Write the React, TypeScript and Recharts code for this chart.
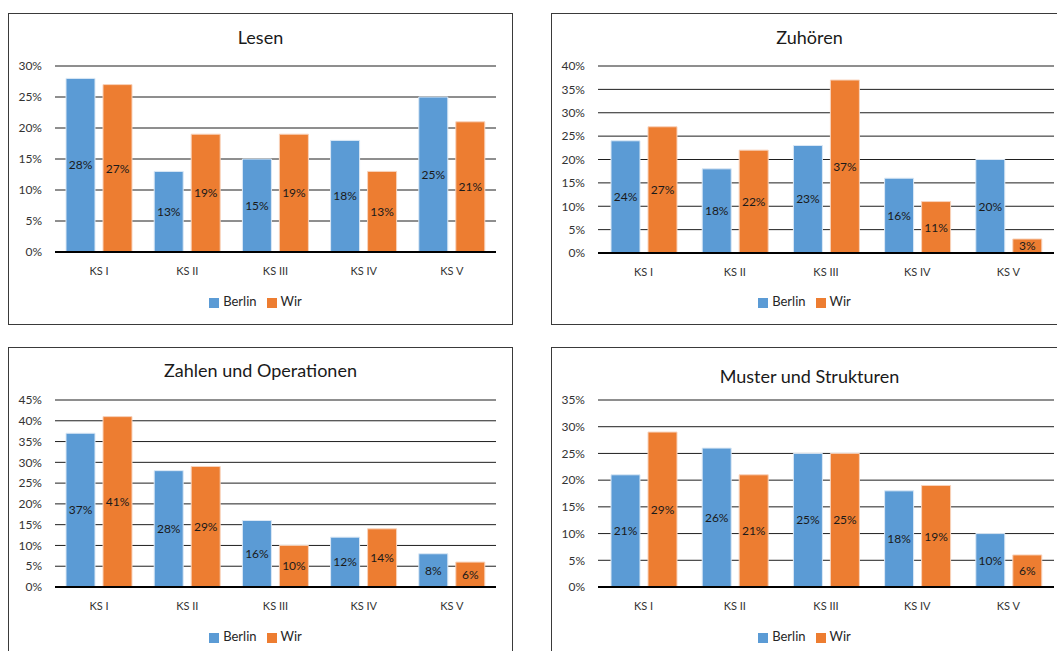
import React from 'react'
import { BarChart, Bar, XAxis, YAxis, CartesianGrid, Legend, LabelList } from 'recharts'

const categories = ['KS I', 'KS II', 'KS III', 'KS IV', 'KS V']

const lesenBerlin = [28, 13, 15, 18, 25]
const lesenWir = [27, 19, 19, 13, 21]

const zuhoerenBerlin = [24, 18, 23, 16, 20]
const zuhoerenWir = [27, 22, 37, 11, 3]

const zahlenBerlin = [37, 28, 16, 12, 8]
const zahlenWir = [41, 29, 10, 14, 6]

const musterBerlin = [21, 26, 25, 18, 10]
const musterWir = [29, 21, 25, 19, 6]

const BLUE = '#5B9BD5'
const ORANGE = '#ED7D31'
const FONT = 'Lato, "Open Sans", sans-serif'

type Box = { left: number; top: number; right: number; bottom: number }

type PanelProps = {
    title: string
    berlin: number[]
    wir: number[]
    yMax: number
    box: Box
    plot: Box
    titleY: number
    legendY: number
}

const Y_AXIS_W = 40
const X_AXIS_H = 30

function Panel({ title, berlin, wir, yMax, box, plot, titleY, legendY }: PanelProps) {
    const w = box.right - box.left
    const h = box.bottom - box.top
    const data = categories.map((c, i) => ({ name: c, Berlin: berlin[i], Wir: wir[i] }))
    const ticks: number[] = []
    for (let v = 0; v <= yMax; v += 5) ticks.push(v)

    const margin = {
        left: plot.left - box.left - Y_AXIS_W,
        right: box.right - plot.right,
        top: plot.top - box.top,
        bottom: box.bottom - plot.bottom - X_AXIS_H,
    }

    return (
        <div
            style={{
                position: 'absolute',
                left: box.left,
                top: box.top,
                width: w,
                height: h,
                border: '1px solid #3a3a3a',
                boxSizing: 'border-box',
                background: '#fff',
            }}
        >
            <div
                style={{
                    position: 'absolute',
                    left: -1,
                    top: titleY - box.top - 13,
                    width: w,
                    textAlign: 'center',
                    fontFamily: FONT,
                    fontSize: 18,
                    lineHeight: '24px',
                    color: '#1a1a1a',
                }}
            >
                {title}
            </div>
            <div style={{ position: 'absolute', left: -1, top: -1 }}>
                <BarChart width={w} height={h} data={data} margin={margin} barSize={29} barGap={8}>
                    <CartesianGrid vertical={false} stroke="#1f1f1f" />
                    <XAxis
                        dataKey="name"
                        height={X_AXIS_H}
                        tickLine={false}
                        tickMargin={9}
                        axisLine={{ stroke: '#000', strokeWidth: 2 }}
                        tick={{ fill: '#333', fontSize: 11, fontFamily: FONT }}
                    />
                    <YAxis
                        width={Y_AXIS_W}
                        domain={[0, yMax]}
                        ticks={ticks}
                        interval={0}
                        axisLine={false}
                        tickLine={false}
                        tickMargin={7}
                        tickFormatter={(v) => `${v}%`}
                        tick={{ fill: '#333', fontSize: 12, fontFamily: FONT }}
                    />
                    <Legend
                        verticalAlign="middle"
                        iconType="square"
                        iconSize={10}
                        wrapperStyle={{ top: legendY - box.top - 8, left: 0, width: w, fontFamily: FONT, fontSize: 13 }}
                        formatter={(value) => <span style={{ color: '#262626' }}>{value}</span>}
                    />
                    <Bar dataKey="Berlin" fill={BLUE} stroke="#dbe8f5" strokeWidth={1} isAnimationActive={false}>
                        <LabelList
                            dataKey="Berlin"
                            position="center"
                            formatter={(v: any) => `${v}%`}
                            style={{ fill: '#1a1a1a', fontSize: 12, fontFamily: FONT }}
                        />
                    </Bar>
                    <Bar dataKey="Wir" fill={ORANGE} stroke="#f8d3bc" strokeWidth={1} isAnimationActive={false}>
                        <LabelList
                            dataKey="Wir"
                            position="center"
                            formatter={(v: any) => `${v}%`}
                            style={{ fill: '#1a1a1a', fontSize: 12, fontFamily: FONT }}
                        />
                    </Bar>
                </BarChart>
            </div>
        </div>
    )
}

export default function App() {
    return (
        <div
            style={{
                position: 'absolute',
                left: 0,
                top: 0,
                width: 1057,
                height: 651,
                overflow: 'hidden',
                background: '#fff',
            }}
        >
            <Panel
                title="Lesen"
                berlin={lesenBerlin}
                wir={lesenWir}
                yMax={30}
                box={{ left: 8, top: 13, right: 513, bottom: 325 }}
                plot={{ left: 55, top: 66, right: 496, bottom: 252 }}
                titleY={37}
                legendY={301}
            />
            <Panel
                title="Zuhören"
                berlin={zuhoerenBerlin}
                wir={zuhoerenWir}
                yMax={40}
                box={{ left: 551, top: 13, right: 1068, bottom: 325 }}
                plot={{ left: 598, top: 66, right: 1054, bottom: 253 }}
                titleY={37}
                legendY={301}
            />
            <Panel
                title="Zahlen und Operationen"
                berlin={zahlenBerlin}
                wir={zahlenWir}
                yMax={45}
                box={{ left: 8, top: 347, right: 513, bottom: 665 }}
                plot={{ left: 55, top: 400, right: 496, bottom: 587 }}
                titleY={370}
                legendY={636}
            />
            <Panel
                title="Muster und Strukturen"
                berlin={musterBerlin}
                wir={musterWir}
                yMax={35}
                box={{ left: 551, top: 347, right: 1068, bottom: 665 }}
                plot={{ left: 598, top: 400, right: 1054, bottom: 587 }}
                titleY={376}
                legendY={636}
            />
        </div>
    )
}
